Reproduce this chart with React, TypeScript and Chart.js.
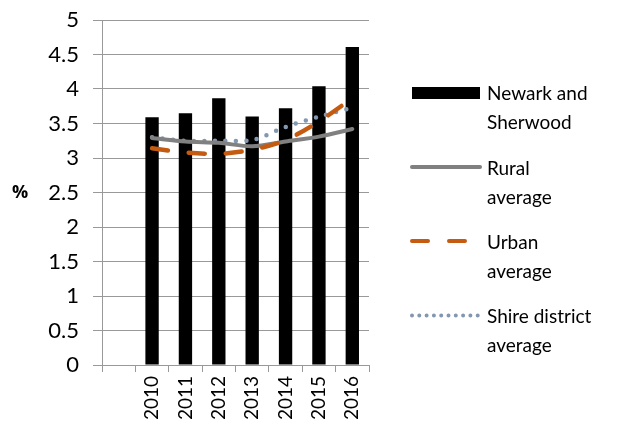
import React, { useEffect, useRef } from "react";
import { Chart, registerables } from "chart.js";

Chart.register(...registerables);

const categories = ["", "2010", "2011", "2012", "2013", "2014", "2015", "2016"];
const newarkSherwood = [null, 3.59, 3.65, 3.865, 3.6, 3.72, 4.04, 4.61];
const ruralAverage = [null, 3.29, 3.24, 3.22, 3.17, 3.24, 3.31, 3.42];
const urbanAverage = [null, 3.14, 3.08, 3.06, 3.12, 3.26, 3.53, 3.865];
const shireAverage = [null, 3.3, 3.25, 3.25, 3.26, 3.45, 3.6, 3.73];
const yTicks = ["0", "0.5", "1", "1.5", "2", "2.5", "3", "3.5", "4", "4.5", "5"];

const FONT = "Lato, 'Open Sans', sans-serif";
const GRID = "#999999";
const RURAL = "#808080";
const URBAN = "#C55A11";
const SHIRE = "#8497B0";

export default function App() {
  const ref = useRef<HTMLCanvasElement | null>(null);

  useEffect(() => {
    document.body.style.margin = "0";
    const ctx = ref.current!.getContext("2d")!;
    const chart = new Chart(ctx, {
      type: "bar",
      data: {
        labels: categories,
        datasets: [
          {
            type: "line",
            label: "Urban average",
            data: urbanAverage,
            borderColor: URBAN,
            borderWidth: 4.5,
            borderDash: [16, 21],
            borderCapStyle: "round",
            pointRadius: 0,
            tension: 0.3,
            order: 1,
          },
          {
            type: "line",
            label: "Rural average",
            data: ruralAverage,
            borderColor: RURAL,
            borderWidth: 4,
            borderCapStyle: "round",
            pointRadius: 0,
            tension: 0.3,
            order: 2,
          },
          {
            type: "line",
            label: "Shire district average",
            data: shireAverage,
            borderColor: SHIRE,
            borderWidth: 4.5,
            borderDash: [0, 10.5],
            borderCapStyle: "round",
            pointRadius: 0,
            tension: 0.3,
            order: 3,
          },
          {
            type: "bar",
            label: "Newark and Sherwood",
            data: newarkSherwood,
            backgroundColor: "#000000",
            barPercentage: 0.5,
            categoryPercentage: 0.8,
            order: 4,
          },
        ] as any,
      },
      options: {
        animation: false,
        responsive: false,
        layout: { padding: { top: 20, right: 256, left: 0, bottom: 0 } },
        plugins: { legend: { display: false }, tooltip: { enabled: false } },
        scales: {
          x: {
            grid: {
              drawOnChartArea: false,
              drawTicks: true,
              tickLength: 7,
              color: GRID,
              offset: true,
            },
            border: { color: GRID },
            ticks: {
              color: "#000",
              minRotation: 90,
              maxRotation: 90,
              padding: 4,
              font: { family: FONT, size: 19 },
            },
            afterFit: (s: any) => {
              s.height = 67;
              s.paddingLeft = 0;
              s.paddingRight = 0;
            },
          },
          y: {
            min: 0,
            max: 5,
            ticks: {
              stepSize: 0.5,
              color: "#000",
              padding: 14,
              font: { family: FONT, size: 22 },
              callback: (_v: any, i: number) => yTicks[i],
            },
            grid: { color: GRID, tickLength: 9, lineWidth: 1 },
            border: { color: GRID },
            afterFit: (s: any) => {
              s.width = 102;
              s.paddingTop = 0;
              s.paddingBottom = 0;
            },
          },
        },
      },
    });
    return () => chart.destroy();
  }, []);

  const text: React.CSSProperties = {
    position: "absolute",
    left: 487,
    fontFamily: FONT,
    fontSize: 19,
    lineHeight: "29px",
    color: "#000",
    whiteSpace: "nowrap",
  };

  return (
    <div style={{ position: "relative", width: 625, height: 432, background: "#fff" }}>
      <canvas ref={ref} width={625} height={432} style={{ position: "absolute", left: 0, top: 0 }} />
      <div
        style={{
          position: "absolute",
          left: 12,
          top: 179,
          fontFamily: "'Open Sans', 'DejaVu Sans', sans-serif",
          fontWeight: 700,
          fontSize: 18,
        }}
      >
        %
      </div>
      <svg width={625} height={432} style={{ position: "absolute", left: 0, top: 0 }}>
        <rect x={412} y={87} width={68} height={12} fill="#000" />
        <line x1={412} y1={167} x2={480} y2={167} stroke={RURAL} strokeWidth={4} strokeLinecap="round" />
        <line x1={412} y1={241} x2={466} y2={241} stroke={URBAN} strokeWidth={4} strokeLinecap="round" strokeDasharray="16 21" />
        <line x1={412} y1={315.5} x2={478} y2={315.5} stroke={SHIRE} strokeWidth={4} strokeLinecap="round" strokeDasharray="0 7.3" />
      </svg>
      <div style={{ ...text, top: 78 }}>Newark and<br />Sherwood</div>
      <div style={{ ...text, top: 153 }}>Rural<br />average</div>
      <div style={{ ...text, top: 227 }}>Urban<br />average</div>
      <div style={{ ...text, top: 301 }}>Shire district<br />average</div>
    </div>
  );
}
